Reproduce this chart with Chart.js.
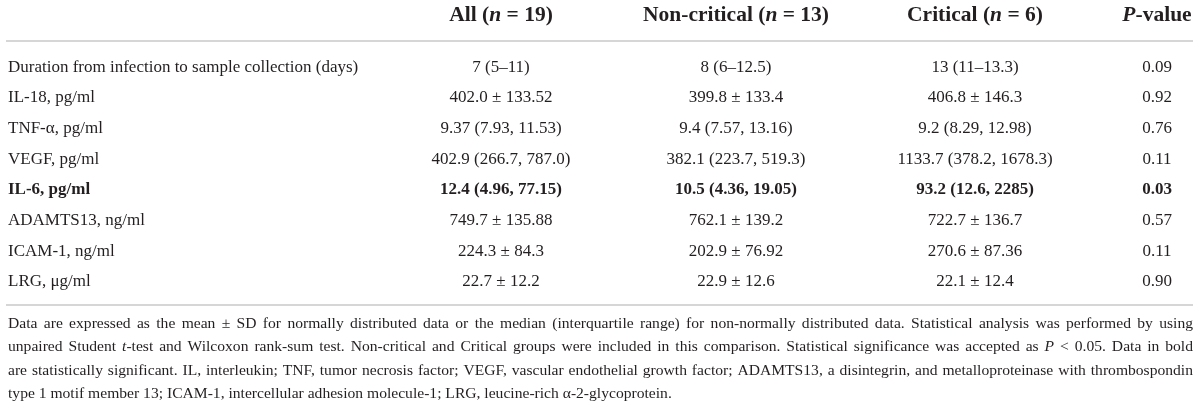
<!DOCTYPE html>
<html>
<head>
<meta charset="utf-8">
<script src="https://cdn.jsdelivr.net/npm/chart.js@4.4.1/dist/chart.umd.min.js"></script>
<style>
  html, body { margin: 0; padding: 0; background: #fff; }
  #wrap { width: 1200px; height: 406px; }
</style>
</head>
<body>
<div id="wrap"><canvas id="tableChart" width="1200" height="406"></canvas></div>
<script>
// table content (*text* = italic)
const rowLabels = [
  "Duration from infection to sample collection (days)",
  "IL-18, pg/ml",
  "TNF-α, pg/ml",
  "VEGF, pg/ml",
  "IL-6, pg/ml",
  "ADAMTS13, ng/ml",
  "ICAM-1, ng/ml",
  "LRG, μg/ml",
];
const allPatients = ["7 (5–11)", "402.0 ± 133.52", "9.37 (7.93, 11.53)", "402.9 (266.7, 787.0)",
  "12.4 (4.96, 77.15)", "749.7 ± 135.88", "224.3 ± 84.3", "22.7 ± 12.2"];
const nonCritical = ["8 (6–12.5)", "399.8 ± 133.4", "9.4 (7.57, 13.16)", "382.1 (223.7, 519.3)",
  "10.5 (4.36, 19.05)", "762.1 ± 139.2", "202.9 ± 76.92", "22.9 ± 12.6"];
const critical = ["13 (11–13.3)", "406.8 ± 146.3", "9.2 (8.29, 12.98)", "1133.7 (378.2, 1678.3)",
  "93.2 (12.6, 2285)", "722.7 ± 136.7", "270.6 ± 87.36", "22.1 ± 12.4"];
const pValues = ["0.09", "0.92", "0.76", "0.11", "0.03", "0.57", "0.11", "0.90"];
const boldRows = [4]; // IL-6 is significant

const headers = ["", "All (*n* = 19)", "Non-critical (*n* = 13)", "Critical (*n* = 6)", "*P*-value"];

const footnote = [
  "Data are expressed as the mean ± SD for normally distributed data or the median (interquartile range) for non-normally distributed data. Statistical analysis was performed by using",
  "unpaired Student *t*-test and Wilcoxon rank-sum test. Non-critical and Critical groups were included in this comparison. Statistical significance was accepted as *P* < 0.05. Data in bold",
  "are statistically significant. IL, interleukin; TNF, tumor necrosis factor; VEGF, vascular endothelial growth factor; ADAMTS13, a disintegrin, and metalloproteinase with thrombospondin",
  "type 1 motif member 13; ICAM-1, intercellular adhesion molecule-1; LRG, leucine-rich α-2-glycoprotein.",
];

// layout
const columns = [rowLabels, allPatients, nonCritical, critical, pValues];
const colX = [8, 501, 736, 975, 1157];
const colAlign = ["left", "center", "center", "center", "center"];
const FONT = "'Liberation Serif', 'DejaVu Serif', serif";
const INK = "#231f20";
const RULE = "#c9c9c9";
const tableLeft = 6, tableRight = 1193;

function fontStr(size, bold, italic) {
  return (italic ? "italic " : "") + (bold ? "bold " : "") + size + "px " + FONT;
}

// split "*x*" markup into runs
function parseRuns(text, italicStart) {
  let italic = !!italicStart;
  const runs = [];
  text.split("*").forEach((piece, i) => {
    if (i > 0) italic = !italic;
    if (piece) runs.push({ text: piece, italic });
  });
  return { runs, italic };
}

function runsWidth(ctx, runs, size, bold) {
  let w = 0;
  runs.forEach((r) => {
    ctx.font = fontStr(size, bold, r.italic);
    w += ctx.measureText(r.text).width;
  });
  return w;
}

function drawRuns(ctx, runs, x, y, size, bold) {
  runs.forEach((r) => {
    ctx.font = fontStr(size, bold, r.italic);
    ctx.fillText(r.text, x, y);
    x += ctx.measureText(r.text).width;
  });
  return x;
}

function drawText(ctx, text, x, y, align, size, bold) {
  const runs = parseRuns(text).runs;
  const w = runsWidth(ctx, runs, size, bold);
  let start = x;
  if (align === "center") start = x - w / 2;
  if (align === "right") start = x - w;
  drawRuns(ctx, runs, start, y, size, bold);
}

function drawJustified(ctx, line, y, size, justify) {
  let italic = false;
  const words = line.split(" ").map((word) => {
    const p = parseRuns(word, italic);
    italic = p.italic;
    return p.runs;
  });
  const widths = words.map((w) => runsWidth(ctx, w, size, false));
  const total = widths.reduce((a, b) => a + b, 0);
  ctx.font = fontStr(size, false, false);
  let gap = ctx.measureText(" ").width;
  const avail = tableRight - colX[0];
  if (justify && words.length > 1) gap = (avail - total) / (words.length - 1);
  let x = colX[0];
  words.forEach((w, i) => {
    drawRuns(ctx, w, x, y, size, false);
    x += widths[i] + gap;
  });
}

const tablePlugin = {
  id: "tableText",
  afterDatasetsDraw(chart) {
    const ctx = chart.ctx;
    const area = chart.chartArea;
    ctx.save();
    ctx.fillStyle = INK;
    ctx.textBaseline = "middle";

    // header row
    headers.forEach((h, c) => {
      if (h) drawText(ctx, h, colX[c], area.top - 26, colAlign[c], 21.5, true);
    });

    // rules
    ctx.strokeStyle = RULE;
    ctx.lineWidth = 1.5;
    [area.top, area.bottom].forEach((y) => {
      ctx.beginPath();
      ctx.moveTo(tableLeft, y);
      ctx.lineTo(tableRight, y);
      ctx.stroke();
    });

    // body cells, placed at each point of the datasets
    chart.data.datasets.forEach((ds, c) => {
      const meta = chart.getDatasetMeta(c);
      meta.data.forEach((pt, r) => {
        const bold = boldRows.includes(r);
        drawText(ctx, ds.data[r].label, pt.x, pt.y, colAlign[c], 17, bold);
      });
    });

    // footnote
    footnote.forEach((line, i) => {
      drawJustified(ctx, line, area.bottom + 19 + i * 23.3, 15.6, i < footnote.length - 1);
    });
    ctx.restore();
  },
};

const datasets = columns.map((col, c) => ({
  label: headers[c],
  data: col.map((txt, r) => ({ x: colX[c], y: r, label: txt })),
  pointRadius: 0,
  pointHoverRadius: 0,
  showLine: false,
}));

const tableChart = new Chart(document.getElementById("tableChart"), {
  type: "scatter",
  data: { datasets },
  options: {
    responsive: false,
    animation: false,
    events: [],
    layout: { padding: { top: 41, bottom: 101, left: 0, right: 0 } },
    plugins: { legend: { display: false }, tooltip: { enabled: false } },
    scales: {
      x: { type: "linear", min: 0, max: 1200, display: false },
      y: { type: "linear", min: -0.85, max: 7.75, reverse: true, display: false },
    },
  },
  plugins: [tablePlugin],
});
</script>
</body>
</html>
